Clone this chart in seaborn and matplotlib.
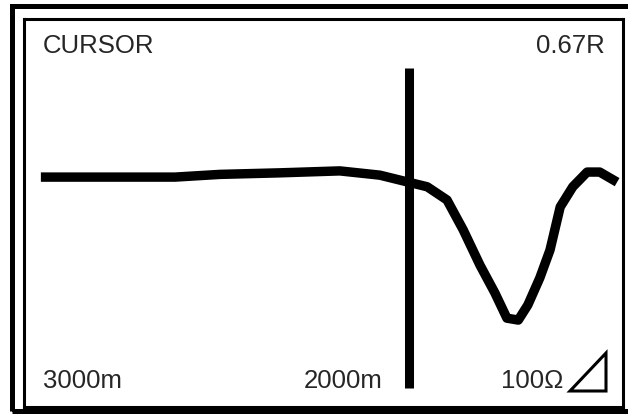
import numpy as np
import pandas as pd
import matplotlib
matplotlib.use("Agg")
import matplotlib.pyplot as plt
import seaborn as sns
from matplotlib.patches import Rectangle, Polygon

# Traza del reflectometro (unidades relativas de la pantalla)
trace_x = [2.9, 25.3, 32.8, 42.8, 52.8, 59.5, 63.7, 67.4, 70.7, 73.4, 76.2, 78.7,
           80.7, 82.6, 84.2, 86.2, 87.9, 89.6, 91.7, 94.1, 96.2, 99.1]
trace_y = [59.2, 59.2, 59.9, 60.3, 60.8, 59.7, 58.1, 56.7, 53.3, 45.6, 36.5, 29.3,
           22.8, 22.3, 26.2, 33.2, 40.4, 51.5, 56.7, 60.5, 60.5, 57.9]

cursor_x = 64.4
cursor_span = [4.8, 87.4]

label_top = ["CURSOR", "0.67R"]
label_bottom = ["3000m", "2000m", "100Ω"]

df = pd.DataFrame({"x": trace_x, "y": trace_y})

sns.set_theme(style="white")
plt.rcParams["font.family"] = ["Liberation Sans", "DejaVu Sans"]

W, H = 628, 415
fig = plt.figure(figsize=(W / 100, H / 100), dpi=100)

# Marco interior = ejes
ax = fig.add_axes([23.5 / W, (H - 406.5) / H, 599 / W, 387.5 / H])
sns.lineplot(data=df, x="x", y="y", sort=False, estimator=None, color="black",
             linewidth=6.8, ax=ax, solid_capstyle="butt", solid_joinstyle="round")
ax.vlines(cursor_x, cursor_span[0], cursor_span[1], color="black", linewidth=6.5)
ax.set_xlim(0, 100)
ax.set_ylim(0, 100)
ax.set_xticks([])
ax.set_yticks([])
ax.set_xlabel("")
ax.set_ylabel("")
for s in ax.spines.values():
    s.set_visible(True)
    s.set_color("black")
    s.set_linewidth(2.2)

# Marco exterior (el lado derecho queda fuera de la imagen)
fig.add_artist(Rectangle((11.5 / W, (H - 411) / H), 650 / W, 404.5 / H,
                         transform=fig.transFigure, fill=False,
                         edgecolor="black", linewidth=3.6))

fs = 18.5
fig.text(43 / W, 1 - 53 / H, label_top[0], fontsize=fs, ha="left", va="baseline")
fig.text(605 / W, 1 - 53 / H, label_top[1], fontsize=fs, ha="right", va="baseline")
fig.text(43 / W, 1 - 388 / H, label_bottom[0], fontsize=fs, ha="left", va="baseline")
fig.text(383 / W, 1 - 388 / H, label_bottom[1], fontsize=fs, ha="right", va="baseline")
fig.text(563 / W, 1 - 388 / H, label_bottom[2], fontsize=fs, ha="right", va="baseline")

# Simbolo del triangulo
tri = np.array([[570, 391], [606, 353], [606, 391]], dtype=float)
tri[:, 0] /= W
tri[:, 1] = 1 - tri[:, 1] / H
fig.add_artist(Polygon(tri, closed=True, fill=False, edgecolor="black",
                       linewidth=2.2, transform=fig.transFigure, joinstyle="miter"))

fig.savefig("out.png", dpi=100)
